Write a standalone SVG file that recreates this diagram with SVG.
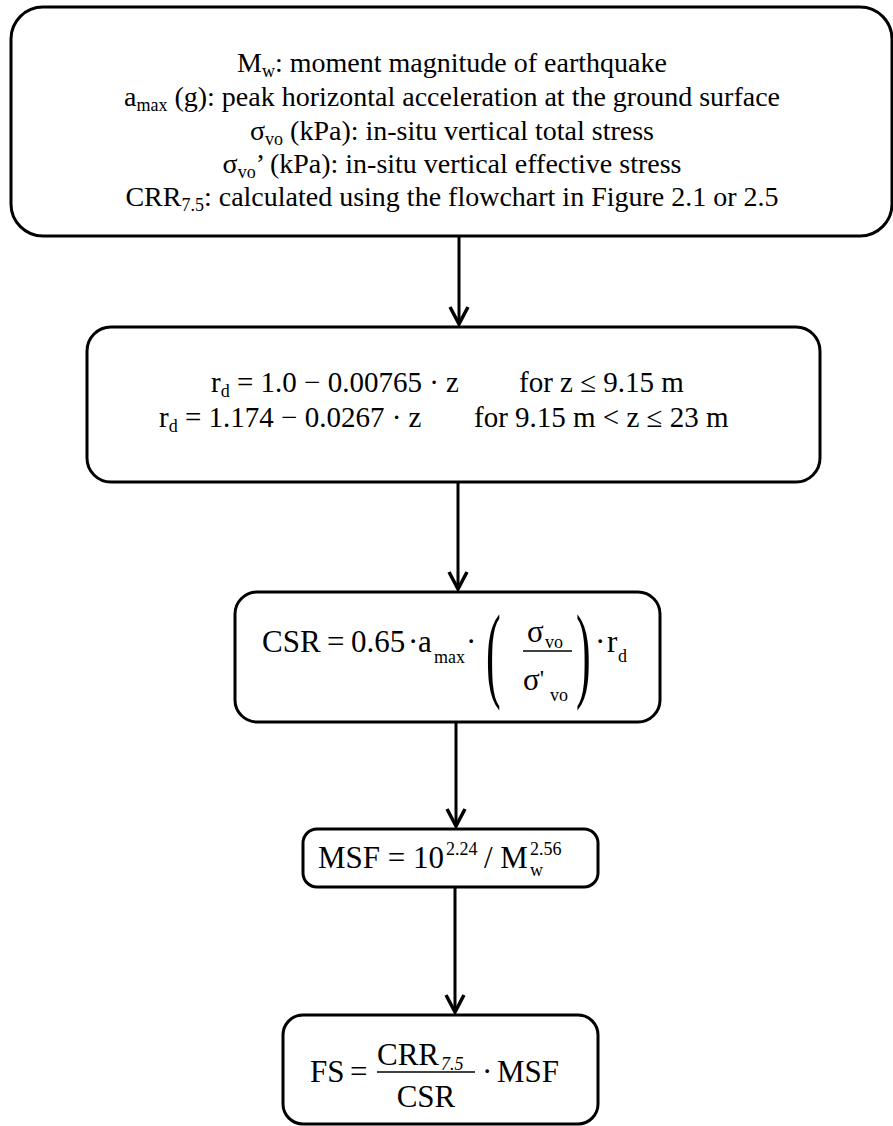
<svg xmlns="http://www.w3.org/2000/svg" width="893" height="1126" viewBox="0 0 893 1126">
<style>
text{font-family:"Liberation Serif","Times New Roman",serif;fill:#000}
.box{fill:#fff;stroke:#000;stroke-width:3}
.t{font-size:28px}
.eq{font-size:29px}
.f{font-size:31px}
.s{font-size:18px}
.conn line{stroke:#000;stroke-width:3}
.head{fill:none;stroke:#000;stroke-width:3.5;stroke-linejoin:miter}
</style>
<defs>
<marker id="arr" markerUnits="userSpaceOnUse" markerWidth="30" markerHeight="30" viewBox="-20 -15 24 30" refX="0" refY="0" orient="auto">
<path d="M-17,-9 L0,0 L-17,9" class="head"/>
</marker>
</defs>
<rect width="893" height="1126" fill="#fff"/>
<g id="connectors" class="conn">
<line x1="459" y1="237" x2="459" y2="324" marker-end="url(#arr)"/>
<line x1="458" y1="483" x2="458" y2="589" marker-end="url(#arr)"/>
<line x1="456" y1="722" x2="456" y2="826" marker-end="url(#arr)"/>
<line x1="455" y1="887" x2="455" y2="1012" marker-end="url(#arr)"/>
</g>
<g id="inputs">
<rect class="box" x="11" y="7" width="881" height="229" rx="32"/>
<text class="t" x="452" y="72" text-anchor="middle">M<tspan class="s" dy="5">w</tspan><tspan dy="-5">: moment magnitude of earthquake</tspan></text>
<text class="t" x="452" y="106" text-anchor="middle">a<tspan class="s" dy="5">max</tspan><tspan dy="-5"> (g): peak horizontal acceleration at the ground surface</tspan></text>
<text class="t" x="452" y="140" text-anchor="middle">σ<tspan class="s" dy="5">vo</tspan><tspan dy="-5"> (kPa): in-situ vertical total stress</tspan></text>
<text class="t" x="452" y="173" text-anchor="middle">σ<tspan class="s" dy="5">vo</tspan><tspan dy="-5">’ (kPa): in-situ vertical effective stress</tspan></text>
<text class="t" x="452" y="206" text-anchor="middle">CRR<tspan class="s" dy="5">7.5</tspan><tspan dy="-5">: calculated using the flowchart in Figure 2.1 or 2.5</tspan></text>
</g>
<g id="rd">
<rect class="box" x="87" y="327" width="733" height="155" rx="24"/>
<text class="eq" x="211" y="392">r<tspan class="s" dy="5">d</tspan><tspan dy="-5"> = 1.0 − 0.00765 · z</tspan></text>
<text class="eq" x="519" y="392">for z ≤ 9.15 m</text>
<text class="eq" x="159" y="427">r<tspan class="s" dy="5">d</tspan><tspan dy="-5"> = 1.174 − 0.0267 · z</tspan></text>
<text class="eq" x="474" y="427">for 9.15 m &lt; z ≤ 23 m</text>
</g>
<g id="csr">
<rect class="box" x="235" y="592" width="425" height="130" rx="22"/>
<text class="f" x="262" y="652">CSR</text>
<text class="f" x="327" y="652">=</text>
<text class="f" x="351" y="652">0.65</text>
<text class="f" x="408" y="652">·</text>
<text class="f" x="418" y="652">a</text>
<text class="s" x="434" y="663">max</text>
<text class="f" x="466" y="652">·</text>
<text transform="translate(486,688) scale(0.42,1)" font-size="105">(</text>
<text class="f" x="527" y="642">σ</text>
<text class="s" x="545" y="648">vo</text>
<line x1="523" y1="651" x2="572" y2="651" stroke="#000" stroke-width="1.5"/>
<text class="f" x="523" y="690">σ<tspan font-size="24" dy="-4">'</tspan></text>
<text class="s" x="550" y="701">vo</text>
<text transform="translate(576,688) scale(0.42,1)" font-size="105">)</text>
<text class="f" x="595" y="652">·</text>
<text class="f" x="607" y="652">r</text>
<text class="s" x="618" y="662">d</text>
</g>
<g id="msf">
<rect class="box" x="303" y="829" width="295" height="58" rx="14"/>
<text class="f" x="318" y="868">MSF = 10</text>
<text class="s" x="446" y="855">2.24</text>
<text class="f" x="484" y="868">/ M</text>
<text class="s" x="530" y="876">w</text>
<text class="s" x="530" y="855">2.56</text>
</g>
<g id="fs">
<rect class="box" x="283" y="1015" width="315" height="109" rx="20"/>
<text class="f" x="310" y="1082">FS</text>
<text class="f" x="350" y="1082">=</text>
<text class="f" x="377" y="1065">CRR</text>
<text class="s" x="441" y="1070" font-style="italic">7.5</text>
<line x1="377" y1="1072" x2="475" y2="1072" stroke="#000" stroke-width="1.5"/>
<text class="f" x="426" y="1107" text-anchor="middle">CSR</text>
<text class="f" x="482" y="1082">·</text>
<text class="f" x="497" y="1082">MSF</text>
</g>
</svg>
